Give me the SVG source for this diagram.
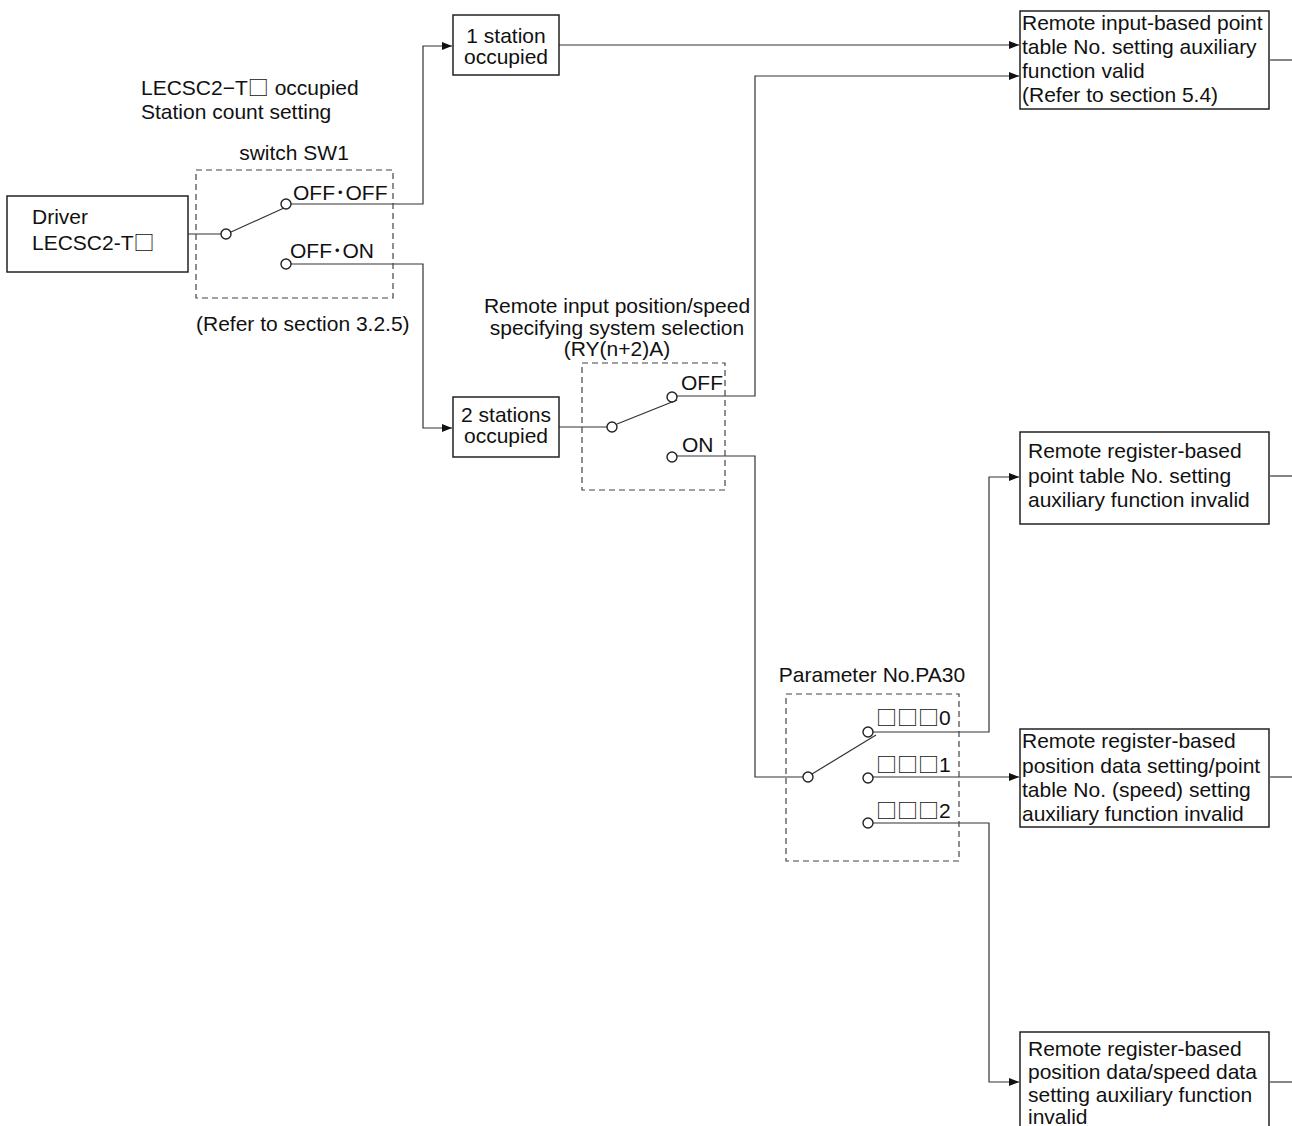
<svg xmlns="http://www.w3.org/2000/svg" width="1292" height="1126" viewBox="0 0 1292 1126">
<style>
text{font-family:"Liberation Sans",Arial,"Noto Sans CJK JP",sans-serif;font-size:21px;fill:#111}
.c{text-anchor:middle}
.sq{font-family:"Noto Sans CJK JP",sans-serif}
.box{fill:#fff;stroke:#222;stroke-width:1.5}
.dash{fill:none;stroke:#444;stroke-width:1.2;stroke-dasharray:6,4}
.ln{fill:none;stroke:#333;stroke-width:1.2}
.pin{fill:#fff;stroke:#222;stroke-width:1.4}
</style>
<defs>
<marker id="ah" markerUnits="userSpaceOnUse" markerWidth="11" markerHeight="8" refX="10" refY="4" orient="auto">
<path d="M0,0 L10,4 L0,8 z" fill="#111"/>
</marker>
</defs>

<g id="connectors">
<path class="ln" d="M188,234 H221"/>
<path class="ln" d="M291,204 H423 V46 H452" marker-end="url(#ah)"/>
<path class="ln" d="M291,264 H423 V428 H452" marker-end="url(#ah)"/>
<path class="ln" d="M559,45 H1019" marker-end="url(#ah)"/>
<path class="ln" d="M559,427 H607"/>
<path class="ln" d="M677,396 H755 V76 H1019" marker-end="url(#ah)"/>
<path class="ln" d="M677,456 H755 V777 H803"/>
<path class="ln" d="M873,732 H989 V477 H1019" marker-end="url(#ah)"/>
<path class="ln" d="M873,777 H1019" marker-end="url(#ah)"/>
<path class="ln" d="M873,823 H989 V1082 H1019" marker-end="url(#ah)"/>
<path class="ln" d="M1270,60 H1292"/>
<path class="ln" d="M1270,476 H1292"/>
<path class="ln" d="M1270,777 H1292"/>
<path class="ln" d="M1270,1082 H1292"/>
</g>

<g id="title-left">
<text x="141" y="95">LECSC2−T<tspan class="sq">□</tspan> occupied</text>
<text x="141" y="119">Station count setting</text>
</g>

<g id="driver">
<rect class="box" x="7" y="196" width="181" height="76"/>
<text x="32" y="224">Driver</text>
<text x="32" y="250">LECSC2-T<tspan class="sq">□</tspan></text>
</g>

<g id="sw1">
<text class="c" x="294" y="160">switch SW1</text>
<rect class="dash" x="196" y="170" width="197" height="128"/>
<line class="ln" x1="231" y1="232" x2="284" y2="208"/>
<circle class="pin" cx="226" cy="234" r="5"/>
<circle class="pin" cx="286" cy="204" r="5"/>
<circle class="pin" cx="286" cy="264" r="5"/>
<text x="293" y="200">OFF･OFF</text>
<text x="290" y="258">OFF･ON</text>
<text x="196" y="331">(Refer to section 3.2.5)</text>
</g>

<g id="one-station">
<rect class="box" x="453" y="15" width="106" height="60"/>
<text class="c" x="506" y="43">1 station</text>
<text class="c" x="506" y="64">occupied</text>
</g>

<g id="two-stations">
<rect class="box" x="453" y="397" width="106" height="60"/>
<text class="c" x="506" y="422">2 stations</text>
<text class="c" x="506" y="443">occupied</text>
</g>

<g id="ry-switch">
<text class="c" x="617" y="313">Remote input position/speed</text>
<text class="c" x="617" y="335">specifying system selection</text>
<text class="c" x="617" y="356">(RY(n+2)A)</text>
<rect class="dash" x="582" y="363" width="143" height="127"/>
<line class="ln" x1="617" y1="424" x2="677" y2="400"/>
<circle class="pin" cx="612" cy="427" r="5"/>
<circle class="pin" cx="672" cy="397" r="5"/>
<circle class="pin" cx="672" cy="457" r="5"/>
<text x="681" y="390">OFF</text>
<text x="682" y="452">ON</text>
</g>

<g id="pa30-switch">
<text class="c" x="872" y="682">Parameter No.PA30</text>
<rect class="dash" x="786" y="694" width="173" height="167"/>
<line class="ln" x1="812" y1="774" x2="876" y2="735"/>
<circle class="pin" cx="808" cy="777" r="5"/>
<circle class="pin" cx="868" cy="732" r="5"/>
<circle class="pin" cx="868" cy="778" r="5"/>
<circle class="pin" cx="868" cy="823" r="5"/>
<text x="876" y="725"><tspan class="sq">□□□</tspan>0</text>
<text x="876" y="772"><tspan class="sq">□□□</tspan>1</text>
<text x="876" y="818"><tspan class="sq">□□□</tspan>2</text>
</g>

<g id="box-input-valid">
<rect class="box" x="1020" y="11" width="249" height="98"/>
<text x="1022" y="30">Remote input-based point</text>
<text x="1022" y="54">table No. setting auxiliary</text>
<text x="1022" y="78">function valid</text>
<text x="1022" y="102">(Refer to section 5.4)</text>
</g>

<g id="box-point-table-invalid">
<rect class="box" x="1020" y="432" width="249" height="92"/>
<text x="1028" y="458">Remote register-based</text>
<text x="1028" y="483">point table No. setting</text>
<text x="1028" y="507">auxiliary function invalid</text>
</g>

<g id="box-position-point-invalid">
<rect class="box" x="1020" y="729" width="249" height="98"/>
<text x="1022" y="748">Remote register-based</text>
<text x="1022" y="773">position data setting/point</text>
<text x="1022" y="797">table No. (speed) setting</text>
<text x="1022" y="821">auxiliary function invalid</text>
</g>

<g id="box-position-speed-invalid">
<rect class="box" x="1020" y="1032" width="249" height="110"/>
<text x="1028" y="1056">Remote register-based</text>
<text x="1028" y="1079">position data/speed data</text>
<text x="1028" y="1102">setting auxiliary function</text>
<text x="1028" y="1124">invalid</text>
</g>
</svg>
